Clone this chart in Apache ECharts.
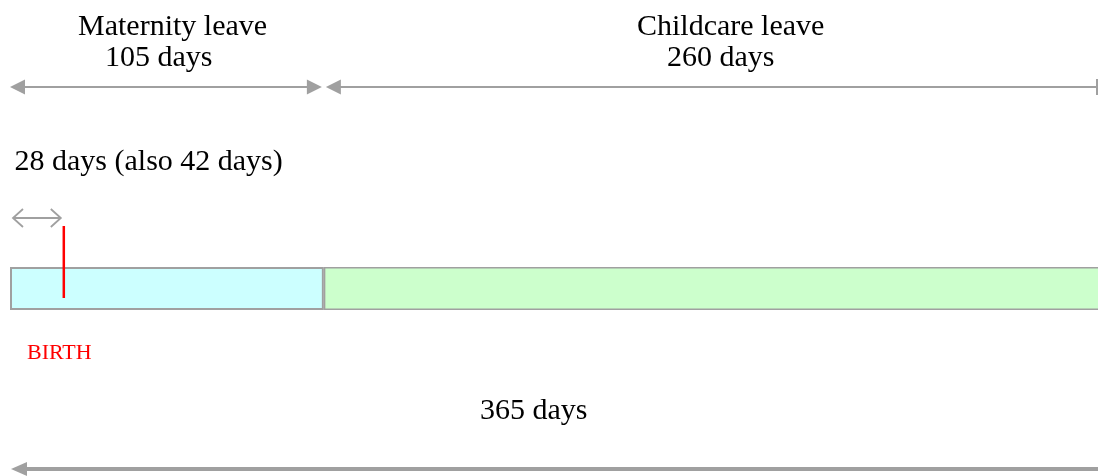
<!DOCTYPE html>
<html>
<head>
<meta charset="utf-8">
<script src="https://cdn.jsdelivr.net/npm/echarts@6/dist/echarts.min.js"></script>
<style>
  html, body { margin: 0; padding: 0; background: #fff; overflow: hidden; }
  #main { width: 1101px; height: 476px; }
</style>
</head>
<body>
<div id="main"></div>
<script>
// leave periods (days)
const leaveNames = ['Maternity leave', 'Childcare leave'];
const leaveDays = [105, 260];
const leaveColors = ['#ccffff', '#ccffcc'];
const totalDays = 365;
const birthDay = 18;
const prenatalSpan = [1, 17];
const prenatalLabel = '28 days (also 42 days)';

const font = '"Liberation Serif", "Times New Roman", serif';
const grey = '#a0a0a0';

// start/end of each leave segment on the day scale
const segments = [];
let acc = 0;
leaveDays.forEach(function (d, i) {
    segments.push([acc, acc + d, i]);
    acc += d;
});

function head(tipX, y, dir, len, half, color) {
    // filled triangle arrow head, dir = 1 points right, -1 points left
    return {
        type: 'polygon',
        shape: { points: [[tipX, y], [tipX - dir * len, y - half], [tipX - dir * len, y + half]] },
        style: { fill: color }
    };
}

var chart = echarts.init(document.getElementById('main'));

chart.setOption({
    animation: false,
    grid: [
        { left: 10, right: 0, top: 267, height: 43 },
        { left: 10, right: 0, top: 0, bottom: 0 }
    ],
    xAxis: [
        { gridIndex: 0, type: 'value', min: 0, max: totalDays, show: false },
        { gridIndex: 1, type: 'value', min: 0, max: totalDays, show: false }
    ],
    yAxis: [
        { gridIndex: 0, type: 'category', data: ['leave'], show: false },
        { gridIndex: 1, type: 'value', min: 0, max: 476, inverse: true, show: false }
    ],
    series: [
        // the leave bar
        ...leaveDays.map(function (d, i) {
            return {
                name: leaveNames[i],
                type: 'bar',
                stack: 'leave',
                xAxisIndex: 0,
                yAxisIndex: 0,
                barWidth: '100%',
                silent: true,
                z: 1,
                itemStyle: { color: leaveColors[i], borderColor: grey, borderWidth: i === 0 ? 2 : 1.5 },
                data: [d]
            };
        }),
        // span arrows above the bar
        {
            type: 'custom',
            xAxisIndex: 1,
            yAxisIndex: 1,
            silent: true,
            data: segments,
            renderItem: function (params, api) {
                var y = 87;
                var x0 = api.coord([api.value(0), y])[0];
                var x1 = api.coord([api.value(1), y])[0];
                var i = api.value(2);
                var kids = [];
                var l = i === 0 ? x0 : x0 + 2;
                var r = i === 0 ? x1 - 2 : x1 - 4;
                kids.push({ type: 'line', shape: { x1: l + 4, y1: y, x2: i === 0 ? r - 4 : r, y2: y }, style: { stroke: grey, lineWidth: 2 } });
                kids.push(head(l, y, -1, 15, 7.5, grey));
                if (i === 0) {
                    kids.push(head(r, y, 1, 15, 7.5, grey));
                } else {
                    kids.push({ type: 'line', shape: { x1: r, y1: 79, x2: r, y2: 95 }, style: { stroke: grey, lineWidth: 2 } });
                }
                return { type: 'group', children: kids };
            }
        },
        // short prenatal arrow with open heads
        {
            type: 'custom',
            xAxisIndex: 1,
            yAxisIndex: 1,
            silent: true,
            data: [prenatalSpan],
            renderItem: function (params, api) {
                var y = 218;
                var a = api.coord([api.value(0), y])[0];
                var b = api.coord([api.value(1), y])[0];
                var st = { stroke: grey, lineWidth: 1.8, fill: null };
                return {
                    type: 'group',
                    children: [
                        { type: 'line', shape: { x1: a, y1: y, x2: b, y2: y }, style: st },
                        { type: 'polyline', shape: { points: [[a + 10, y - 9], [a, y], [a + 10, y + 9]] }, style: st },
                        { type: 'polyline', shape: { points: [[b - 10, y - 9], [b, y], [b - 10, y + 9]] }, style: st }
                    ]
                };
            }
        },
        // birth marker
        {
            type: 'custom',
            xAxisIndex: 1,
            yAxisIndex: 1,
            silent: true,
            z: 10,
            data: [[birthDay]],
            renderItem: function (params, api) {
                var x = api.coord([api.value(0), 0])[0];
                return { type: 'line', z2: 10, shape: { x1: x, y1: 226, x2: x, y2: 298 }, style: { stroke: '#ff0000', lineWidth: 2.5 } };
            }
        },
        // whole year arrow at the bottom
        {
            type: 'custom',
            xAxisIndex: 1,
            yAxisIndex: 1,
            silent: true,
            data: [[0, totalDays]],
            renderItem: function (params, api) {
                var y = 469;
                var a = api.coord([api.value(0), y])[0] + 1;
                var b = api.coord([api.value(1), y])[0];
                return {
                    type: 'group',
                    children: [
                        { type: 'line', shape: { x1: a + 10, y1: y, x2: b, y2: y }, style: { stroke: grey, lineWidth: 4 } },
                        head(a, y, -1, 16, 7, grey)
                    ]
                };
            }
        }
    ],
    graphic: [
        { type: 'text', x: 78, y: 27, style: { text: leaveNames[0], font: '30px ' + font, fill: '#000', verticalAlign: 'middle' } },
        { type: 'text', x: 105, y: 58, style: { text: leaveDays[0] + ' days', font: '30px ' + font, fill: '#000', verticalAlign: 'middle' } },
        { type: 'text', x: 637, y: 27, style: { text: leaveNames[1], font: '30px ' + font, fill: '#000', verticalAlign: 'middle' } },
        { type: 'text', x: 667, y: 58, style: { text: leaveDays[1] + ' days', font: '30px ' + font, fill: '#000', verticalAlign: 'middle' } },
        { type: 'text', x: 14.5, y: 162, style: { text: prenatalLabel, font: '30px ' + font, fill: '#000', verticalAlign: 'middle' } },
        { type: 'text', x: 27, y: 353, style: { text: 'BIRTH', font: '22px ' + font, fill: '#ff0000', verticalAlign: 'middle' } },
        { type: 'text', x: 480, y: 411, style: { text: totalDays + ' days', font: '30px ' + font, fill: '#000', verticalAlign: 'middle' } }
    ]
});
</script>
</body>
</html>
